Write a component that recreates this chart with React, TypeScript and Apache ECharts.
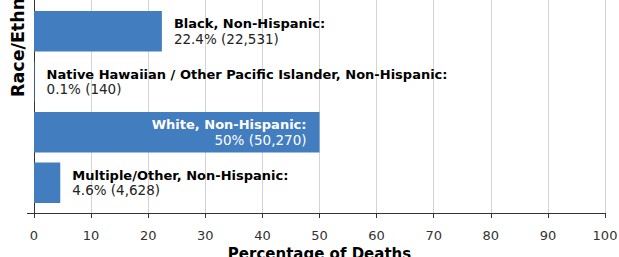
import React, { useEffect, useRef } from "react";
import * as echarts from "echarts";

const categories = [
  "Black, Non-Hispanic",
  "Native Hawaiian / Other Pacific Islander, Non-Hispanic",
  "White, Non-Hispanic",
  "Multiple/Other, Non-Hispanic",
];
const percents = [22.4, 0.1, 50, 4.6];
const counts = [22531, 140, 50270, 4628];
const insideLabel = [false, false, true, false];
const xTicks = { min: 0, max: 100, interval: 10 };

const FONT = "DejaVu Sans";
const BAR = "#427dbf";

export default function App() {
  const ref = useRef<HTMLDivElement>(null);
  useEffect(() => {
    document.body.style.margin = "0";
    const chart = echarts.init(ref.current!, null, { renderer: "svg" });
    const fmt = (i: number) =>
      `{b|${categories[i]}:}\n{v|${percents[i]}% (${counts[i].toLocaleString("en-US")})}`;
    const data = percents.map((p, i) =>
      insideLabel[i]
        ? {
            value: p,
            label: {
              position: "insideRight",
              distance: 13,
              align: "right",
              rich: {
                b: { fontFamily: FONT, fontSize: 13, fontWeight: "bold", color: "#fff", lineHeight: 15, align: "right" },
                v: { fontFamily: FONT, fontSize: 13.5, color: "#fff", lineHeight: 15, align: "right" },
              },
            },
          }
        : { value: p }
    );
    chart.setOption({
      animation: false,
      grid: [
        { left: 34, right: 14, top: 0, height: 11, outerBoundsMode: "none", containLabel: false },
        { left: 34, right: 14, top: 11, height: 202, outerBoundsMode: "none", containLabel: false },
      ],
      xAxis: [
        {
          gridIndex: 0,
          type: "value",
          ...xTicks,
          axisLine: { show: false },
          axisTick: { show: false },
          axisLabel: { show: false },
          splitLine: { lineStyle: { color: "#d4d4d4" } },
        },
        {
          gridIndex: 1,
          type: "value",
          ...xTicks,
          axisLine: { show: true, lineStyle: { color: "#333" } },
          axisTick: { show: true, length: 5, lineStyle: { color: "#333" } },
          axisLabel: { fontFamily: FONT, fontSize: 13, color: "#333", margin: 16 },
          splitLine: { lineStyle: { color: "#d4d4d4" } },
          name: "Percentage of Deaths",
          nameLocation: "middle",
          nameGap: 31,
          nameTextStyle: { fontFamily: FONT, fontSize: 15, fontWeight: "bold", color: "#000" },
        },
      ],
      yAxis: [
        {
          gridIndex: 0,
          type: "value",
          axisLine: { show: true, lineStyle: { color: "#333" } },
          axisTick: { show: false },
          axisLabel: { show: false },
          splitLine: { show: false },
        },
        {
          gridIndex: 1,
          type: "category",
          inverse: true,
          data: categories,
          axisLine: { show: true, lineStyle: { color: "#333" } },
          axisTick: { show: false },
          axisLabel: { show: false },
        },
      ],
      series: [
        {
          type: "bar",
          xAxisIndex: 1,
          yAxisIndex: 1,
          data,
          barWidth: 40.5,
          barGap: 0,
          itemStyle: { color: BAR },
          label: {
            show: true,
            position: "right",
            distance: 12,
            formatter: (p: any) => fmt(p.dataIndex),
            rich: {
              b: { fontFamily: FONT, fontSize: 13, fontWeight: "bold", color: "#000", lineHeight: 15 },
              v: { fontFamily: FONT, fontSize: 13.5, color: "#222", lineHeight: 15 },
            },
          },
        },
        {
          type: "bar",
          xAxisIndex: 1,
          yAxisIndex: 1,
          data: categories.map(() => null),
          barWidth: 10,
          barGap: 0,
          silent: true,
        },
      ],
      graphic: [
        {
          type: "line",
          shape: { x1: 27, y1: 213.5, x2: 34, y2: 213.5 },
          style: { stroke: "#333", lineWidth: 1 },
        },
        {
          type: "text",
          x: 18,
          y: 97,
          rotation: Math.PI / 2,
          style: {
            text: "Race/Ethnicity",
            fontFamily: FONT,
            fontSize: 17.5,
            fontWeight: "bold",
            fill: "#000",
            align: "left",
            verticalAlign: "middle",
          },
        },
      ],
    });
    return () => chart.dispose();
  }, []);
  return (
    <div
      ref={ref}
      style={{ position: "absolute", left: 0, top: 0, width: 619, height: 257 }}
    />
  );
}
